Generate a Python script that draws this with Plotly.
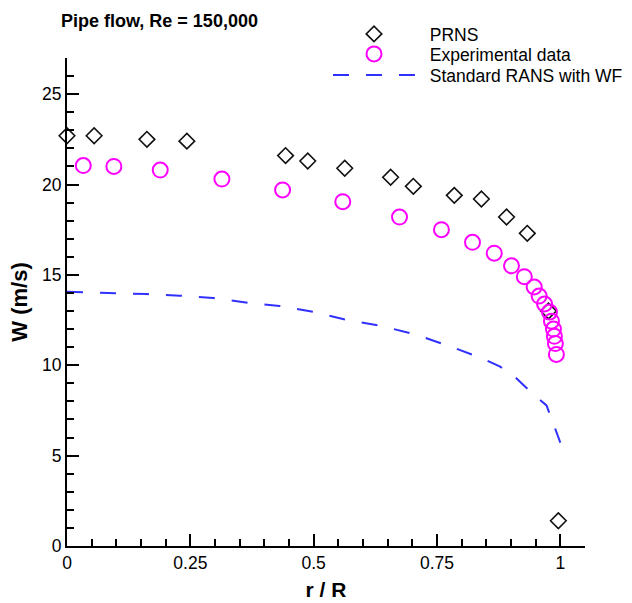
import plotly.graph_objects as go

# PRNS results
prns_r = [0.0, 0.055, 0.162, 0.243, 0.443, 0.488, 0.563, 0.656, 0.702, 0.785, 0.840, 0.891, 0.933, 0.976, 0.996]
prns_w = [22.7, 22.7, 22.5, 22.4, 21.6, 21.3, 20.9, 20.4, 19.9, 19.4, 19.2, 18.2, 17.3, 13.0, 1.4]

# Experimental data
exp_r = [0.033, 0.095, 0.189, 0.314, 0.437, 0.559, 0.674, 0.759, 0.822, 0.866, 0.901, 0.927,
         0.947, 0.957, 0.968, 0.978, 0.982, 0.986, 0.988, 0.990, 0.992]
exp_w = [21.05, 21.0, 20.8, 20.3, 19.7, 19.05, 18.2, 17.5, 16.8, 16.2, 15.5, 14.9,
         14.33, 13.83, 13.39, 12.94, 12.44, 12.0, 11.6, 11.2, 10.6]

# Standard RANS with wall functions
rans_r = [0.0, 0.087, 0.162, 0.229, 0.296, 0.366, 0.431, 0.502, 0.569, 0.638, 0.704, 0.771,
          0.840, 0.877, 0.909, 0.943, 0.972, 0.988, 1.0]
rans_w = [14.07, 14.02, 13.94, 13.85, 13.72, 13.46, 13.28, 12.94, 12.5, 12.17, 11.72, 11.1,
          10.4, 9.94, 9.33, 8.44, 7.78, 6.61, 5.72]

x_tickvals = [0, 0.25, 0.5, 0.75, 1]
x_ticktext = ["0", "0.25", "0.5", "0.75", "1"]
y_tickvals = [0, 5, 10, 15, 20, 25]

series_names = ["PRNS", "Experimental data", "Standard RANS with WF"]

FONT = "Liberation Sans, Arial, sans-serif"
PAD = "\u00a0\u00a0"

fig = go.Figure()
fig.add_trace(go.Scatter(
    x=prns_r, y=prns_w, mode="markers", name=PAD + series_names[0], legend="legend",
    marker=dict(symbol="diamond-open", size=12, color="#111111", line=dict(width=1.6, color="#111111")),
    cliponaxis=False,
))
fig.add_trace(go.Scatter(
    x=exp_r, y=exp_w, mode="markers", name=PAD + series_names[1], legend="legend2",
    marker=dict(symbol="circle-open", size=15, color="#ff00ff", line=dict(width=2, color="#ff00ff")),
    cliponaxis=False,
))
fig.add_trace(go.Scatter(
    x=rans_r, y=rans_w, mode="lines", name=PAD + series_names[2], legend="legend3",
    line=dict(color="#3030ff", width=2, dash="16px,17px"),
))

axis_common = dict(
    showline=True, linecolor="black", linewidth=2, mirror=False,
    showgrid=False, zeroline=False, automargin=False,
    ticks="inside", ticklen=12, tickwidth=2, tickcolor="black",
    tickfont=dict(family=FONT, size=17.5, color="black"),
)

def leg(top_px):
    return dict(x=(328 - 67) / 518, xanchor="left", y=(546 - top_px) / 488, yanchor="top",
                font=dict(family=FONT, size=17.5, color="black"),
                itemwidth=82, bgcolor="rgba(0,0,0,0)")

fig.update_layout(
    width=632, height=603,
    margin=dict(l=67, r=47, t=58, b=57, autoexpand=False),
    paper_bgcolor="white", plot_bgcolor="white",
    font=dict(family=FONT, color="black"),
    title=dict(text="<b>Pipe flow, Re = 150,000</b>", font=dict(family=FONT, size=18, color="black"),
               xref="container", x=61 / 632, xanchor="left",
               yref="container", y=1 - 21 / 603, yanchor="middle"),
    xaxis=dict(range=[0, 1.05], tickvals=x_tickvals, ticktext=x_ticktext, ticklabelstandoff=0,
               minor=dict(dtick=0.05, tick0=0, ticks="inside", ticklen=7, tickwidth=1.5, tickcolor="black"),
               title=dict(text="<b>r / R</b>", font=dict(family=FONT, size=21, color="black"), standoff=10),
               **axis_common),
    yaxis=dict(range=[0, 27], tickvals=y_tickvals,
               minor=dict(dtick=1, tick0=0, ticks="inside", ticklen=7, tickwidth=1.5, tickcolor="black"),
               title=dict(text="<b>W (m/s)</b>", font=dict(family=FONT, size=22, color="black"), standoff=8),
               **axis_common),
    legend=leg(16),
    legend2=leg(36),
    legend3=leg(57),
    showlegend=True,
)

fig.write_html("out.html")
